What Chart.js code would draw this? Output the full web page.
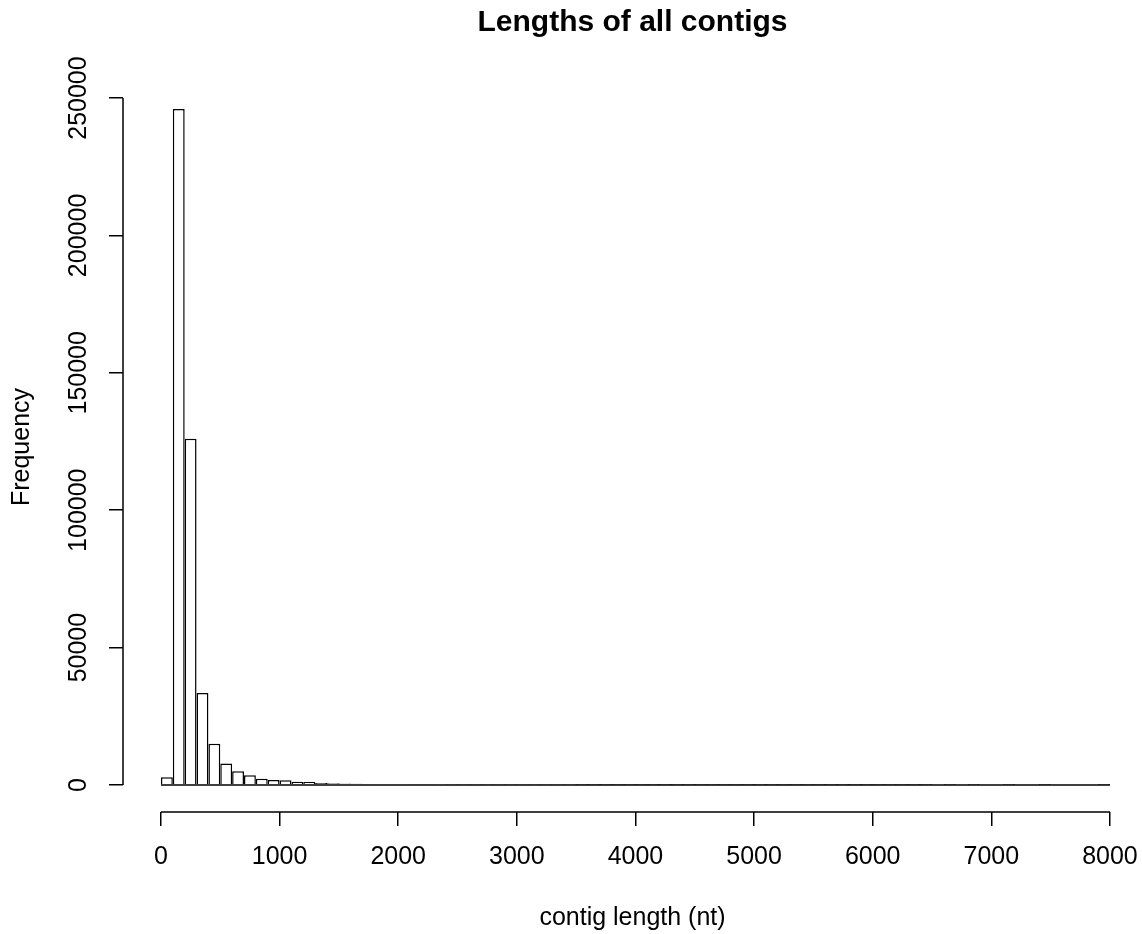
<!DOCTYPE html>
<html>
<head>
<meta charset="utf-8">
<script src="https://cdn.jsdelivr.net/npm/chart.js@4/dist/chart.umd.min.js"></script>
<style>
  html, body { margin: 0; padding: 0; background: #fff; }
  canvas { display: block; }
</style>
</head>
<body>
<canvas id="hist" width="1142" height="934"></canvas>
<script>
// histograma: bins de 100 nt, 0..8000
const binWidth = 100;
const binStart = 0;
const counts = [
  2800, 246000, 126000, 33500, 15000, 7800, 5000, 3500, 2300, 1800,
  1700, 1200, 1100, 700, 650, 550, 450, 380, 300, 260,
  220, 190, 160, 140, 120, 105, 90, 80, 70, 62,
  55, 48, 42, 38, 33, 29, 26, 23, 20, 18,
  16, 14, 12, 11, 10, 9, 8, 7, 6, 6,
  5, 5, 4, 4, 3, 3, 3, 2, 2, 2,
  2, 1, 1, 1, 1, 0, 1, 0, 1, 0,
  0, 1, 0, 0, 1, 0, 0, 0, 0, 1
];
const xTicks = [0, 1000, 2000, 3000, 4000, 5000, 6000, 7000, 8000];
const yTicks = [0, 50000, 100000, 150000, 200000, 250000];
const titulo = 'Lengths of all contigs';
const tituloX = 'contig length (nt)';
const tituloY = 'Frequency';

const FONT = "'Liberation Sans', Arial, sans-serif";
Chart.defaults.font.family = FONT;
Chart.defaults.color = '#000';

const barras = counts.map((c, i) => ({ x: binStart + (i + 0.5) * binWidth, y: c }));
const fimX = binStart + counts.length * binWidth;
const baseline = [{ x: binStart, y: 0 }, { x: fimX, y: 0 }];

// linhas dos eixos no estilo do R (do primeiro ao ultimo tick)
const eixosR = {
  id: 'eixosR',
  afterDatasetsDraw(chart) {
    const { ctx, chartArea, scales } = chart;
    const sx = scales.x, sy = scales.y;
    ctx.save();
    ctx.strokeStyle = '#000';
    ctx.lineWidth = 1.5;
    ctx.beginPath();
    ctx.moveTo(sx.getPixelForValue(xTicks[0]), chartArea.bottom);
    ctx.lineTo(sx.getPixelForValue(xTicks[xTicks.length - 1]), chartArea.bottom);
    ctx.moveTo(chartArea.left, sy.getPixelForValue(yTicks[0]));
    ctx.lineTo(chartArea.left, sy.getPixelForValue(yTicks[yTicks.length - 1]));
    ctx.stroke();
    ctx.restore();
  }
};

new Chart(document.getElementById('hist'), {
  data: {
    datasets: [
      {
        type: 'bar', data: barras, order: 1,
        backgroundColor: '#fff', borderColor: '#000', borderWidth: 1.5,
        barPercentage: 1, categoryPercentage: 1, grouped: false, inflateAmount: 0
      },
      {
        type: 'line', data: baseline, order: 0,
        borderColor: '#000', borderWidth: 1.5, pointRadius: 0, fill: false
      }
    ]
  },
  options: {
    responsive: false,
    animation: false,
    layout: { padding: { left: 0, right: 0, top: 0, bottom: 0 } },
    plugins: {
      legend: { display: false },
      tooltip: { enabled: false },
      title: {
        display: true, text: titulo, fullSize: false, color: '#000',
        font: { size: 30, weight: 'bold' },
        padding: { top: 5, bottom: 41 }
      }
    },
    scales: {
      x: {
        type: 'linear', position: 'bottom', min: -320, max: 8270, offset: false,
        afterBuildTicks: s => { s.ticks = xTicks.map(v => ({ value: v })); },
        afterFit: s => { s.height = 122; },
        border: { display: false },
        grid: { offset: false, drawOnChartArea: false, drawTicks: true, tickLength: 14, color: '#000', lineWidth: 1.5 },
        ticks: { font: { size: 25, lineHeight: 2.48 }, color: '#000', padding: 0, maxRotation: 0, autoSkip: false, callback: v => String(v) },
        title: { display: true, text: tituloX, color: '#000', font: { size: 25 }, padding: { top: 0, bottom: 1 } }
      },
      y: {
        type: 'linear', position: 'left', min: -9840, max: 255840,
        afterBuildTicks: s => { s.ticks = yTicks.map(v => ({ value: v })); },
        afterFit: s => { s.width = 123; },
        border: { display: false },
        grid: { drawOnChartArea: false, drawTicks: true, tickLength: 14, color: '#000', lineWidth: 1.5 },
        ticks: { font: { size: 25 }, color: '#000', padding: -12, minRotation: 90, maxRotation: 90, crossAlign: 'center', autoSkip: false, callback: v => String(v) },
        title: { display: true, text: tituloY, color: '#000', font: { size: 25 }, padding: { top: 7, bottom: 0 } }
      }
    }
  },
  plugins: [eixosR]
});
</script>
</body>
</html>
